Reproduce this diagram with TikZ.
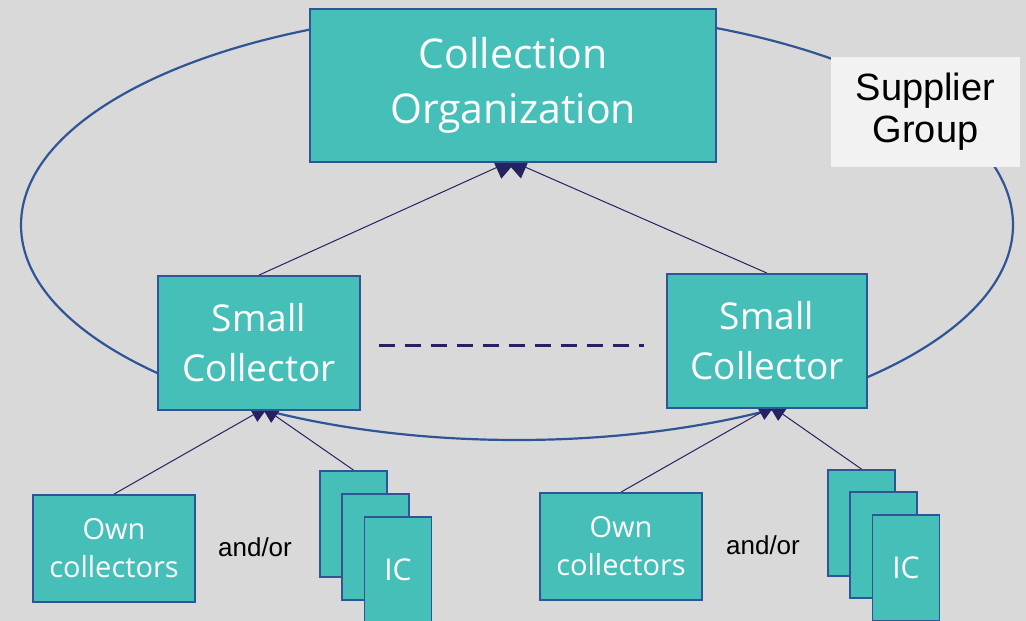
\documentclass[tikz,border=0pt]{standalone}
\usepackage{fontspec}
\newfontfamily\boxfont{Open Sans}
\newfontfamily\plainfont{Liberation Sans}
\usetikzlibrary{arrows.meta,backgrounds}
\definecolor{bgGray}{HTML}{D9D9D9}
\definecolor{boxTeal}{HTML}{45BFB8}
\definecolor{boxBlue}{HTML}{2F5597}
\definecolor{linkNavy}{HTML}{262262}
\definecolor{noteGray}{HTML}{F2F2F2}

\begin{document}
\begin{tikzpicture}[x=1pt,y=-1pt,
    box/.style={draw=boxBlue, line width=1.8pt, fill=boxTeal, text=white,
      align=center, inner sep=0pt, font=\boxfont},
    bigtip/.style={draw=linkNavy, line width=1pt, -{Triangle[length=26pt,width=24pt]}},
    smalltip/.style={draw=linkNavy, line width=1pt, -{Triangle[length=18pt,width=16pt]}},
    ring/.style={draw=boxBlue, line width=2.2pt}]
\useasboundingbox (0,0) rectangle (1026,621);

\node[box, minimum width=406pt, minimum height=153pt, font=\boxfont\fontsize{41}{55}\selectfont] (org) at (513,85.5) {Collection\\Organization};
\node[box, minimum width=202pt, minimum height=134pt, font=\boxfont\fontsize{37}{50}\selectfont] (sc1) at (259,343) {Small\\Collector};
\node[box, minimum width=200pt, minimum height=134pt, font=\boxfont\fontsize{37}{50}\selectfont] (sc2) at (767,341) {Small\\Collector};

\node[box, minimum width=162pt, minimum height=107pt, font=\boxfont\fontsize{29}{38}\selectfont] (own1) at (114,548.5) {Own\\collectors};
\node[box, minimum width=67pt, minimum height=106pt] (ic1a) at (353.5,524) {};
\node[box, minimum width=67pt, minimum height=106pt] (ic1b) at (375.5,547) {};
\node[box, minimum width=67pt, minimum height=106pt, font=\boxfont\fontsize{30}{34}\selectfont] (ic1c) at (398,570) {IC};
\node[font=\plainfont\fontsize{26}{30}\selectfont] (or1) at (255,547) {and/or};

\node[box, minimum width=162pt, minimum height=107pt, font=\boxfont\fontsize{29}{38}\selectfont] (own2) at (621,546.5) {Own\\collectors};
\node[box, minimum width=67pt, minimum height=106pt] (ic2a) at (861.5,523) {};
\node[box, minimum width=67pt, minimum height=106pt] (ic2b) at (883.5,545) {};
\node[box, minimum width=67pt, minimum height=106pt, font=\boxfont\fontsize{30}{34}\selectfont] (ic2c) at (906,568) {IC};
\node[font=\plainfont\fontsize{26}{30}\selectfont] (or2) at (763,545) {and/or};

\node[fill=noteGray, minimum width=189pt, minimum height=110pt, align=center,
  font=\plainfont\fontsize{38}{42}\selectfont] (sup) at (925.5,112) {Supplier\\Group};

\draw[linkNavy, line width=3pt, dash pattern=on 16pt off 10pt, shorten <=18pt, shorten >=22pt]
  ([yshift=-2pt]sc1.east) -- ([yshift=-4pt]sc2.west);

\begin{pgfonlayer}{background}
\fill[bgGray] (0,0) rectangle (1026,621);
\coordinate (mid) at (517,225);
\draw[ring] (mid) ellipse [x radius=496, y radius=215];
\draw[bigtip] (sc1.north) -- ([xshift=7pt,yshift=6pt]org.south);
\draw[bigtip] (sc2.north) -- ([xshift=-11pt,yshift=6pt]org.south);
\draw[smalltip] (own1.north) -- ([xshift=10pt,yshift=5pt]sc1.south);
\draw[smalltip] (ic1a.north) -- ([xshift=2pt,yshift=5pt]sc1.south);
\draw[smalltip] (own2.north) -- ([xshift=9pt,yshift=5pt]sc2.south);
\draw[smalltip] (ic2a.north) -- ([xshift=1pt,yshift=5pt]sc2.south);
\end{pgfonlayer}
\end{tikzpicture}
\end{document}
